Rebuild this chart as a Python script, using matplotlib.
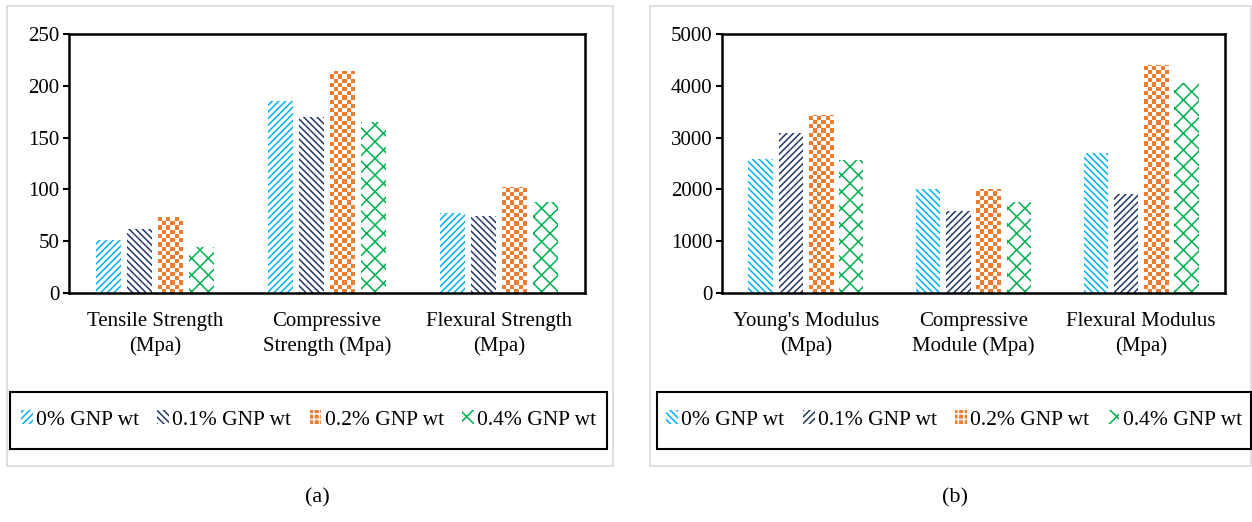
import numpy as np
import matplotlib
matplotlib.use("Agg")
import matplotlib.pyplot as plt
from matplotlib.patches import Rectangle, Patch
from matplotlib.colors import ListedColormap

plt.rcParams['font.family'] = ['Liberation Serif', 'DejaVu Serif']
plt.rcParams['hatch.linewidth'] = 1.1

series = ['0% GNP wt', '0.1% GNP wt', '0.2% GNP wt', '0.4% GNP wt']
colors = ['#00B0F0', '#1F3864', '#ED7D31', '#00B050']

cats_a = ['Tensile Strength\n(Mpa)', 'Compressive\nStrength (Mpa)', 'Flexural Strength\n(Mpa)']
vals_a = [[51, 185, 77],     # 0%
          [62, 170, 74],     # 0.1%
          [73, 214, 102],    # 0.2%
          [44, 165, 88]]     # 0.4%
hatch_a = ['/////', '\\\\\\\\\\', None, 'xx']

cats_b = ["Young's Modulus\n(Mpa)", 'Compressive\nModule (Mpa)', 'Flexural Modulus\n(Mpa)']
vals_b = [[2590, 2000, 2710],
          [3090, 1575, 1920],
          [3440, 2010, 4410],
          [2570, 1755, 4060]]
hatch_b = ['\\\\\\\\\\', '/////', None, 'xx']

W, H = 1252, 522
fig = plt.figure(figsize=(W / 100, H / 100), dpi=100)


def px(x0, y0, x1, y1):
    # pixel box (top-left origin) -> figure fraction rect
    return [x0 / W, 1 - y1 / H, (x1 - x0) / W, (y1 - y0) / H]


def checker(ax, bar, color, sq_px=4.2):
    # draw a checkerboard inside a bar, clipped to the bar
    x, w, h = bar.get_x(), bar.get_width(), bar.get_height()
    ylo, yhi = ax.get_ylim()
    sq_y = (yhi - ylo) / ax.bbox.height * sq_px
    ncol = 6
    nrow = int(np.ceil(h / sq_y)) + 1
    img = (np.add.outer(np.arange(nrow), np.arange(ncol)) % 2)
    im = ax.imshow(img, cmap=ListedColormap(['white', color]), aspect='auto',
                   interpolation='nearest', origin='lower',
                   extent=(x, x + w, 0, nrow * sq_y), zorder=2)
    im.set_clip_path(bar)


def panel(rect, cats, vals, hatches, ymax, step):
    ax = fig.add_axes(rect)
    ax.set_xlim(-0.5, 2.5)
    ax.set_ylim(0, ymax)
    x = np.arange(len(cats))
    bw, gap = 0.145, 0.18
    for i, (v, c, h) in enumerate(zip(vals, colors, hatches)):
        pos = x + (i - 1.5) * gap
        if h is None:
            bars = ax.bar(pos, v, bw, facecolor='white', linewidth=0, zorder=1)
            for b in bars:
                checker(ax, b, c)
        else:
            ax.bar(pos, v, bw, facecolor='white', edgecolor=c, hatch=h,
                   linewidth=0, zorder=2)
    ax.set_xlim(-0.5, 2.5)
    ax.set_ylim(0, ymax)
    ax.set_yticks(np.arange(0, ymax + 1, step))
    ax.set_xticks(x)
    ax.set_xticklabels(cats, fontsize=15, linespacing=1.3)
    ax.tick_params(axis='x', length=0, pad=14)
    ax.tick_params(axis='y', length=4, width=1.5, labelsize=15, pad=3)
    for s in ax.spines.values():
        s.set_linewidth(1.8)
    return ax


def legend_box(x0, x1, hatches):
    fig.patches.append(Rectangle((x0 / W, 1 - 449 / H), (x1 - x0) / W, 57 / H,
                                 transform=fig.transFigure, fill=False,
                                 edgecolor='black', linewidth=1.5))
    handles = []
    for lab, c, h in zip(series, colors, hatches):
        if h is None:
            handles.append(Patch(facecolor=c, edgecolor='white', hatch='+++',
                                 linewidth=0, label=lab))
        else:
            handles.append(Patch(facecolor='white', edgecolor=c, hatch=h,
                                 linewidth=0, label=lab))
    fig.legend(handles=handles, loc='center', ncol=4, frameon=False,
               bbox_to_anchor=((x0 + x1) / 2 / W, 1 - 420 / H),
               fontsize=15.5, handlelength=0.55, handleheight=0.6,
               handletextpad=0.15, columnspacing=0.85)


def frame(x0, x1):
    fig.patches.append(Rectangle((x0 / W, 1 - 466 / H), (x1 - x0) / W, 460 / H,
                                 transform=fig.transFigure, fill=False,
                                 edgecolor='#D9D9D9', linewidth=1.2))


frame(7, 613)
frame(650, 1251)

panel(px(69, 34, 585, 293), cats_a, vals_a, hatch_a, 250, 50)
panel(px(722, 34, 1225, 293), cats_b, vals_b, hatch_b, 5000, 1000)

legend_box(10, 607, hatch_a)
legend_box(657, 1251, hatch_b)

fig.text(317 / W, 1 - 498 / H, '(a)', fontsize=16, ha='center', va='center')
fig.text(955 / W, 1 - 498 / H, '(b)', fontsize=16, ha='center', va='center')

fig.savefig('out.png', dpi=100)
